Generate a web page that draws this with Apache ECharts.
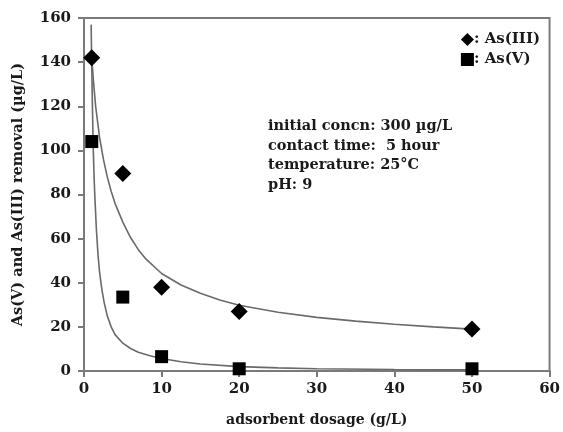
<!DOCTYPE html>
<html>
<head>
<meta charset="utf-8">
<script src="https://cdn.jsdelivr.net/npm/echarts@6/dist/echarts.min.js"></script>
<style>
html,body{margin:0;padding:0;background:#fff;}
#chart{width:563px;height:432px;}
</style>
</head>
<body>
<div id="chart"></div>
<script>
// Measured points
var dosage = [1, 5, 10, 20, 50];
var asIII = [142, 89.5, 38, 27, 19];
var asV = [104, 33.5, 6.5, 1, 1];

// Fitted trend curves
var fitIIIx = [1, 1.25, 1.5, 2, 2.5, 3, 3.5, 4, 5, 6, 7, 8, 10, 12.5, 15, 17.5, 20, 25, 30, 35, 40, 45, 50];
var fitIIIy = [142, 130, 120, 106, 96, 88, 81.5, 76, 67.5, 60.5, 55, 50.7, 44.2, 39, 35.2, 32.2, 29.8, 26.6, 24.3, 22.6, 21.2, 20, 19];
var fitVx = [0.92, 1, 1.1, 1.2, 1.3, 1.4, 1.6, 1.8, 2, 2.3, 2.6, 3, 3.5, 4, 5, 6, 7, 8.5, 10, 12.5, 15, 20, 25, 30, 40, 50];
var fitVy = [157, 138, 117, 100, 88, 79, 64, 53, 45, 37, 31, 25, 20, 16.5, 12.6, 10.2, 8.5, 6.9, 5.7, 4.2, 3.2, 2.0, 1.4, 1.05, 0.7, 0.5];

// Axis ticks
var xTicks = {min: 0, max: 60, interval: 10};
var yTicks = {min: 0, max: 160, interval: 20};

var notes = ['initial concn: 300 µg/L', 'contact time:  5 hour', 'temperature: 25°C', 'pH: 9'];

function pairs(xs, ys){ return xs.map(function(x,i){return [x, ys[i]];}); }

var serif = '"DejaVu Serif", "Liberation Serif", serif';
var axisColor = '#7a7a7a';
var ink = '#1a1a1a';

var chart = echarts.init(document.getElementById('chart'));
chart.setOption({
  backgroundColor: '#ffffff',
  animation: false,
  grid: {left: 84, right: 11, top: 18, bottom: 56, show: true, borderColor: axisColor, borderWidth: 2, backgroundColor: 'transparent'},
  xAxis: {
    type: 'value', min: xTicks.min, max: xTicks.max, interval: xTicks.interval,
    name: 'adsorbent dosage (g/L)', nameLocation: 'middle', nameGap: 42,
    nameTextStyle: {fontFamily: serif, fontWeight: 'bold', fontSize: 14, color: ink},
    axisLine: {lineStyle: {color: axisColor, width: 2}},
    axisTick: {inside: false, length: 6, lineStyle: {color: axisColor, width: 2}},
    axisLabel: {fontFamily: serif, fontWeight: 'bold', fontSize: 15, color: ink, margin: 11},
    splitLine: {show: false}
  },
  yAxis: {
    type: 'value', min: yTicks.min, max: yTicks.max, interval: yTicks.interval,
    name: 'As(V) and As(III) removal (µg/L)', nameLocation: 'middle', nameGap: 58,
    nameTextStyle: {fontFamily: serif, fontWeight: 'bold', fontSize: 14.5, color: ink},
    axisLine: {show: true, lineStyle: {color: axisColor, width: 2}},
    axisTick: {show: true, inside: false, length: 6, lineStyle: {color: axisColor, width: 2}},
    axisLabel: {fontFamily: serif, fontWeight: 'bold', fontSize: 15, color: ink, margin: 13},
    splitLine: {show: false}
  },
  legend: {
    orient: 'vertical', right: 18, top: 27, itemGap: 5, itemWidth: 13, itemHeight: 13,
    data: [{name: 'As(III)', icon: 'diamond'}, {name: 'As(V)', icon: 'rect'}],
    formatter: function(n){ return ': ' + n; },
    itemStyle: {opacity: 1},
    textStyle: {fontFamily: serif, fontWeight: 'bold', fontSize: 15, color: ink, padding: [0,0,0,-5]}
  },
  graphic: notes.map(function(t, i){
    return {type: 'text', left: 268, top: 119 + i * 19.5,
      style: {text: t, fontFamily: serif, fontWeight: 'bold', fontSize: 14.5, fill: ink}};
  }),
  series: [
    {name: 'fitIII', type: 'line', data: pairs(fitIIIx, fitIIIy), smooth: false, showSymbol: false,
      lineStyle: {color: '#6a6a6a', width: 1.6}, z: 2, silent: true},
    {name: 'fitV', type: 'line', data: pairs(fitVx, fitVy), smooth: false, showSymbol: false,
      lineStyle: {color: '#6a6a6a', width: 1.6}, z: 2, silent: true},
    {name: 'As(III)', type: 'scatter', data: pairs(dosage, asIII), symbol: 'diamond', symbolSize: [17, 17],
      itemStyle: {color: '#000', opacity: 1}, z: 5},
    {name: 'As(V)', type: 'scatter', data: pairs(dosage, asV), symbol: 'rect', symbolSize: 13,
      itemStyle: {color: '#000', opacity: 1}, z: 5}
  ]
});
</script>
</body>
</html>
